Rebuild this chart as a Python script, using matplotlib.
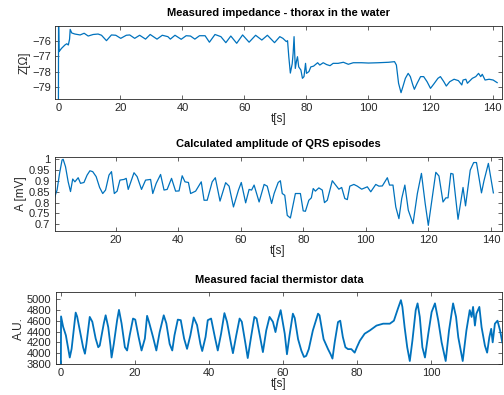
import matplotlib
matplotlib.use('Agg')
import matplotlib.pyplot as plt

plt.rcParams['font.family'] = ['Liberation Sans', 'DejaVu Sans']

# Импеданс грудной клетки (t, Z)
imp_t = [0.0, 0.05, 0.2, 1.0, 2.1, 2.7, 3.2, 3.6, 3.8, 4.3, 5.3, 7.0, 8.3, 9.6, 11.2, 12.8, 13.9,
         15.5, 17.1, 18.5, 20.1, 21.9, 23.0, 24.6, 26.2, 28.1, 29.6, 31.8, 33.5, 35.3, 36.1, 37.6,
         39.6, 41.2, 42.6, 44.0, 45.5, 47.3, 48.7, 50.5, 52.4, 54.0, 55.6, 57.5, 59.4, 61.5, 63.6,
         65.6, 67.4, 69.7, 71.4, 72.4, 73.5, 73.9, 74.3, 74.8, 75.4, 75.7, 76.0, 76.2, 76.4, 76.8,
         77.1, 77.5, 78.2, 78.7, 79.2, 79.7, 80.0, 80.8, 81.4, 82.3, 83.6, 84.3, 85.4, 86.5, 87.6,
         88.6, 90.2, 91.9, 93.5, 95.1, 97.8, 100.0, 103.2, 106.5, 108.4, 109.0, 109.7, 110.5,
         111.1, 111.9, 112.8, 113.5, 114.3, 114.8, 115.7, 116.8, 117.8, 118.9, 120.0, 121.1,
         122.4, 123.2, 124.3, 125.1, 126.2, 127.6, 129.0, 130.1, 130.5, 131.4, 131.9, 132.4,
         133.5, 134.6, 135.5, 136.2, 136.7, 137.6, 138.9, 140.2, 141.5]
imp_z = [-80.5, -74.5, -76.71, -76.5, -76.28, -76.2, -76.28, -75.9, -75.27, -75.5, -75.57, -75.63,
         -75.52, -75.7, -75.6, -75.57, -75.65, -76.0, -75.63, -75.65, -75.85, -75.65, -75.63,
         -75.85, -75.65, -75.9, -75.6, -75.9, -75.65, -75.74, -75.9, -75.65, -75.91, -75.68,
         -75.7, -75.9, -75.68, -75.68, -76.1, -75.6, -75.74, -76.13, -75.7, -76.17, -75.63, -76.1,
         -75.65, -75.96, -75.65, -76.13, -75.74, -75.85, -76.06, -76.0, -77.04, -78.1, -77.5,
         -76.82, -75.74, -76.8, -77.8, -77.3, -77.04, -77.7, -77.9, -78.44, -78.33, -77.47,
         -78.12, -78.0, -77.7, -77.65, -77.43, -77.58, -77.43, -77.55, -77.62, -77.47, -77.47,
         -77.4, -77.53, -77.43, -77.43, -77.45, -77.43, -77.4, -77.36, -77.58, -78.76, -79.37,
         -78.98, -78.44, -78.12, -78.33, -78.87, -79.15, -78.76, -78.33, -78.33, -78.66, -79.09,
         -78.8, -78.44, -78.33, -78.66, -78.94, -78.66, -78.5, -78.59, -78.87, -78.55, -78.5,
         -78.76, -78.66, -78.44, -78.33, -78.12, -78.33, -78.18, -78.55, -78.5, -78.55, -78.72]

# Амплитуда QRS (t, A)
qrs_t = [0.48, 1.3, 2.1, 2.9, 3.25, 4.0, 4.85, 5.6, 6.3, 7.0, 8.05, 8.8, 9.9, 10.9, 11.8, 12.7,
         13.8, 14.9, 15.9, 16.8, 17.9, 18.7, 19.6, 20.5, 21.4, 22.7, 23.4, 24.05, 25.1, 25.9, 26.9,
         28.3, 29.6, 31.2, 31.9, 33.0, 34.4, 35.5, 36.5, 37.9, 39.2, 40.3, 41.3, 42.2, 43.3, 44.0,
         45.6, 47.4, 48.3, 49.3, 50.9, 51.9, 53.4, 55.2, 56.3, 57.7, 59.3, 60.2, 61.6, 62.7, 63.5,
         64.3, 65.9, 67.5, 68.5, 69.9, 70.7, 72.0, 72.7, 73.3, 74.1, 74.9, 75.9, 77.5, 79.1, 80.0,
         80.7, 81.8, 82.6, 83.2, 83.9, 85.0, 86.1, 86.8, 87.7, 89.3, 90.4, 91.4, 92.3, 93.3, 94.1,
         94.9, 96.2, 97.3, 98.7, 100.5, 101.6, 103.2, 104.2, 105.3, 106.9, 107.6, 108.7, 109.6,
         110.6, 111.5, 112.5, 113.6, 115.1, 116.5, 117.8, 119.0, 120.0, 121.3, 122.4, 123.4, 124.7,
         125.6, 126.3, 127.2, 127.9, 129.5, 131.1, 131.9, 133.4, 134.5, 135.4, 137.0, 137.8, 139.2,
         140.8]
qrs_a = [0.824, 0.858, 0.935, 0.997, 1.0, 0.966, 0.896, 0.851, 0.909, 0.896, 0.915, 0.889, 0.893,
         0.927, 0.947, 0.943, 0.92, 0.87, 0.842, 0.858, 0.927, 0.943, 0.842, 0.853, 0.904, 0.907,
         0.912, 0.861, 0.904, 0.938, 0.92, 0.861, 0.904, 0.907, 0.842, 0.889, 0.93, 0.858, 0.861,
         0.912, 0.853, 0.854, 0.924, 0.896, 0.893, 0.842, 0.853, 0.896, 0.811, 0.811, 0.896, 0.915,
         0.807, 0.892, 0.876, 0.78, 0.858, 0.893, 0.799, 0.861, 0.858, 0.881, 0.803, 0.884, 0.876,
         0.796, 0.842, 0.893, 0.901, 0.842, 0.834, 0.741, 0.729, 0.842, 0.842, 0.762, 0.76, 0.811,
         0.822, 0.865, 0.853, 0.868, 0.858, 0.8, 0.811, 0.901, 0.881, 0.862, 0.87, 0.819, 0.814,
         0.876, 0.884, 0.876, 0.862, 0.873, 0.85, 0.884, 0.876, 0.877, 0.915, 0.881, 0.881, 0.78,
         0.726, 0.819, 0.881, 0.765, 0.703, 0.842, 0.935, 0.796, 0.695, 0.827, 0.94, 0.923, 0.803,
         0.822, 0.822, 0.935, 0.932, 0.723, 0.87, 0.785, 0.95, 0.985, 0.985, 0.845, 0.901, 0.981,
         0.845]

# Термистор (t, A.U.)
th_t = [0.0, 0.05, 0.6, 1.35, 2.0, 2.4, 2.9, 4.0, 4.4, 5.3, 6.0, 6.5, 6.9, 7.8, 8.5, 9.4, 10.1,
        10.5, 11.6, 12.1, 12.8, 13.4, 13.7, 14.3, 15.2, 15.7, 16.4, 17.3, 17.9, 18.6, 19.5, 20.1,
        21.0, 21.8, 22.7, 23.3, 23.8, 24.9, 25.8, 26.7, 27.8, 28.5, 29.4, 30.1, 30.7, 31.6, 32.4,
        33.3, 34.1, 35.0, 35.9, 36.8, 37.7, 38.2, 39.1, 39.7, 40.6, 41.7, 42.4, 43.3, 44.2, 44.9,
        46.0, 46.5, 47.4, 48.3, 48.9, 49.9, 50.5, 51.4, 52.3, 52.9, 53.9, 54.6, 55.5, 56.4, 57.3,
        58.0, 58.6, 59.4, 60.5, 61.1, 61.8, 62.7, 63.2, 64.1, 65.0, 65.7, 66.3, 67.0, 68.1, 69.5,
        69.9, 71.0, 72.2, 72.9, 73.4, 74.0, 74.9, 75.5, 76.2, 76.9, 77.6, 78.5, 79.4, 80.0, 80.8,
        82.1, 83.5, 85.3, 87.1, 88.9, 90.0, 91.1, 91.9, 92.3, 92.9, 93.6, 94.3, 95.0, 95.9, 96.4,
        97.0, 97.7, 98.4, 99.3, 100.2, 101.1, 102.0, 102.9, 104.0, 104.9, 106.0, 106.8, 107.4,
        108.6, 109.6, 110.5, 111.0, 111.4, 111.9, 112.3, 113.1, 113.7, 114.6, 115.2, 115.8, 116.3,
        116.7, 117.3, 118.0, 118.7, 119.3]
th_v = [3800, 4680, 4490, 4330, 4080, 3920, 4080, 4750, 4675, 4360, 4110, 3990, 4170, 4670, 4580,
        4270, 4110, 4140, 4550, 4700, 4480, 4140, 3920, 4170, 4610, 4800, 4550, 4110, 4050, 4330,
        4640, 4620, 4300, 4050, 4270, 4690, 4580, 4300, 4050, 4390, 4700, 4550, 4170, 4050, 4330,
        4620, 4610, 4270, 4080, 4330, 4660, 4520, 4170, 4040, 4300, 4610, 4640, 4270, 4050, 4360,
        4740, 4580, 4170, 4000, 4330, 4640, 4580, 4170, 3910, 4300, 4670, 4640, 4270, 4020, 4420,
        4670, 4580, 4390, 4600, 4795, 4360, 3980, 4330, 4730, 4650, 4260, 4045, 3930, 3950, 4075,
        4420, 4730, 4700, 4260, 4075, 3980, 3900, 4200, 4575, 4600, 4300, 4110, 4075, 4075, 4010,
        4110, 4230, 4360, 4420, 4510, 4545, 4545, 4600, 4825, 4980, 4855, 4480, 4110, 3855, 4230,
        4795, 4920, 4670, 4110, 3920, 4360, 4760, 4920, 4600, 4200, 3855, 4420, 4920, 4670, 4295,
        3855, 4420, 4795, 4670, 4855, 4510, 4730, 4855, 4480, 4140, 4010, 4295, 4450, 4200, 4545,
        4600, 4420, 4200]

blue = '#0072BD'
W, H = 504, 395


def style_ax(ax):
    for s in ax.spines.values():
        s.set_color('#262626')
        s.set_linewidth(0.6)
    ax.tick_params(direction='in', length=3, width=0.5, colors='#262626',
                   labelsize=8, top=True, right=True, pad=3)


fig = plt.figure(figsize=(W / 100, H / 100), dpi=100)

# Верхний график
ax1 = fig.add_axes([55 / W, 1 - 99 / H, 446.5 / W, 73 / H])
ax1.plot(imp_t, imp_z, color=blue, lw=0.9)
ax1.set_xlim(-1.1, 142.9)
ax1.set_ylim(-79.78, -75.05)
ax1.set_xticks(range(0, 141, 20))
ax1.set_yticks([-79, -78, -77, -76])
ax1.set_title('Measured impedance - thorax in the water', fontsize=8, fontweight='bold', pad=7)
ax1.set_xlabel('t[s]', fontsize=8.5, labelpad=0, color='#262626')
ax1.set_ylabel('Z[Ω]', fontsize=8.5, labelpad=1, color='#262626')
style_ax(ax1)

# Средний график
ax2 = fig.add_axes([54.5 / W, 1 - 231 / H, 447 / W, 74.3 / H])
ax2.plot(qrs_t, qrs_a, color=blue, lw=0.9)
ax2.set_xlim(0.48, 143.4)
ax2.set_ylim(0.669, 1.012)
ax2.set_xticks(range(20, 141, 20))
ax2.set_yticks([0.7, 0.75, 0.8, 0.85, 0.9, 0.95, 1.0])
ax2.set_yticklabels(['0.7', '0.75', '0.8', '0.85', '0.9', '0.95', '1'])
ax2.set_title('Calculated amplitude of QRS episodes', fontsize=8, fontweight='bold', pad=7)
ax2.set_xlabel('t[s]', fontsize=8.5, labelpad=0, color='#262626')
ax2.set_ylabel('A [mV]', fontsize=8.5, labelpad=1, color='#262626')
style_ax(ax2)

# Нижний график
ax3 = fig.add_axes([55.7 / W, 1 - 364 / H, 446.6 / W, 71.7 / H])
ax3.plot(th_t, th_v, color=blue, lw=1.3)
ax3.set_xlim(-1.4, 119.3)
ax3.set_ylim(3800, 5125)
ax3.set_xticks(range(0, 101, 20))
ax3.set_yticks(range(3800, 5001, 200))
ax3.set_title('Measured facial thermistor data', fontsize=8, fontweight='bold', pad=7)
ax3.set_xlabel('t[s]', fontsize=8.5, labelpad=0, color='#262626')
ax3.set_ylabel('A.U.', fontsize=8.5, labelpad=1, color='#262626')
style_ax(ax3)

fig.savefig('out.png', dpi=100)
